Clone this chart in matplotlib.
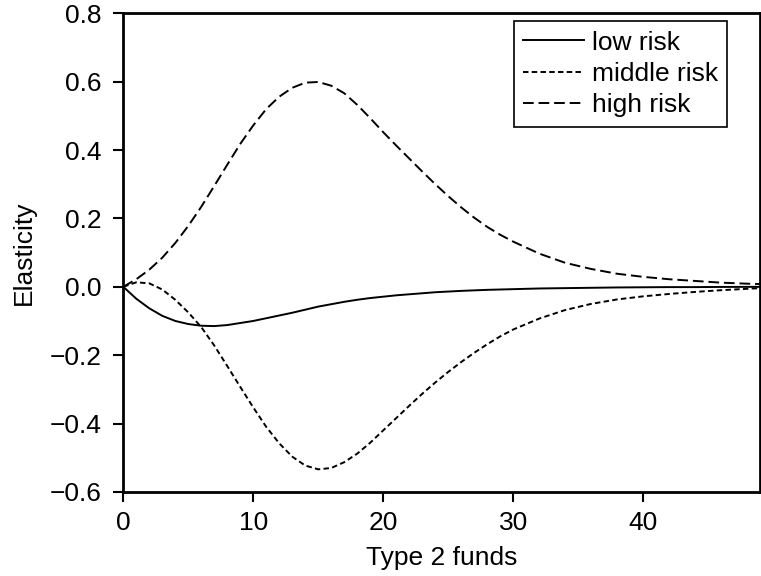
import matplotlib
matplotlib.use('Agg')
import matplotlib.pyplot as plt

funds = [0, 1, 2, 3, 4, 5, 6, 7, 8, 9, 10, 11, 12, 13, 14, 15, 16, 17, 18, 19, 20,
         21, 22, 23, 24, 25, 26, 27, 28, 29, 30,
         32, 34, 36, 38, 40, 42, 44, 46, 48, 49]
low_risk = [0, -0.035, -0.063, -0.085, -0.1, -0.109, -0.114, -0.115, -0.112, -0.106,
            -0.1, -0.092, -0.084, -0.076, -0.067, -0.058, -0.051, -0.044, -0.038, -0.033,
            -0.029, -0.025, -0.022, -0.019, -0.016, -0.014, -0.012, -0.0105, -0.009, -0.008,
            -0.007, -0.005, -0.004, -0.003, -0.002, -0.0015, -0.001, -0.001, -0.0005,
            -0.0003, -0.0002]
middle_risk = [0, 0.013, 0.01, -0.008, -0.038, -0.075, -0.118, -0.172, -0.232, -0.293,
               -0.353, -0.41, -0.458, -0.497, -0.523, -0.534, -0.53, -0.513, -0.488, -0.456,
               -0.42, -0.384, -0.348, -0.313, -0.28, -0.249, -0.22, -0.193, -0.168, -0.145,
               -0.125, -0.093, -0.068, -0.05, -0.037, -0.028, -0.021, -0.015, -0.01,
               -0.006, -0.004]
high_risk = [0, 0.022, 0.05, 0.085, 0.128, 0.178, 0.234, 0.295, 0.357, 0.418,
             0.472, 0.52, 0.556, 0.582, 0.597, 0.599, 0.588, 0.566, 0.532, 0.493,
             0.452, 0.413, 0.375, 0.337, 0.30, 0.265, 0.232, 0.202, 0.175, 0.152,
             0.132, 0.097, 0.070, 0.052, 0.038, 0.029, 0.022, 0.017, 0.012,
             0.009, 0.008]
y_ticks = [-0.6, -0.4, -0.2, 0.0, 0.2, 0.4, 0.6, 0.8]
x_ticks = [0, 10, 20, 30, 40]

plt.rcParams['font.family'] = ['Liberation Sans', 'DejaVu Sans']

fig = plt.figure(figsize=(7.61, 5.76), dpi=100)
ax = fig.add_axes([0.162, 0.146, 0.837, 0.831])

ax.plot(funds, low_risk, color='black', lw=1.4, label='low risk')
ax.plot(funds, middle_risk, color='black', lw=1.4, dashes=(2.8, 1.7), label='middle risk')
ax.plot(funds, high_risk, color='black', lw=1.4, dashes=(5.5, 2.5), label='high risk')

ax.set_xlim(0, 49)
ax.set_ylim(-0.6, 0.8)
ax.set_xticks(x_ticks)
ax.set_yticks(y_ticks)
ax.set_yticklabels(['%.1f' % v if v >= 0 else '\u2212%.1f' % abs(v) for v in y_ticks])
ax.tick_params(direction='out', length=7.5, width=1.5, labelsize=19)
ax.tick_params(axis='y', pad=8)
ax.tick_params(axis='x', pad=6)
for s in ax.spines.values():
    s.set_linewidth(2)

ax.set_xlabel('Type 2 funds', fontsize=19, labelpad=8)
ax.set_ylabel('Elasticity', fontsize=19, labelpad=10)

leg = ax.legend(loc='upper right', bbox_to_anchor=(0.948, 0.983), fontsize=19,
                frameon=True, fancybox=False, framealpha=1, handlelength=2.3,
                handletextpad=0.3, borderpad=0.35, labelspacing=0.28, borderaxespad=0)
leg.get_frame().set_edgecolor('black')
leg.get_frame().set_linewidth(1.2)

fig.savefig('out.png', dpi=100)
